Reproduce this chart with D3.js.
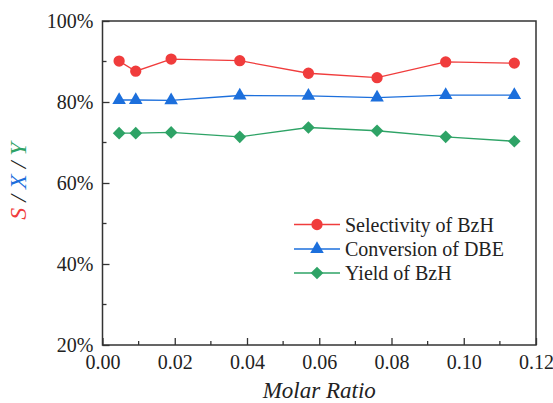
<!DOCTYPE html>
<html><head><meta charset="utf-8">
<script src="https://cdn.jsdelivr.net/npm/d3@7"></script>
<style>body{margin:0;background:#fff}svg{display:block}</style>
</head><body>
<svg id="c" width="553" height="403"></svg>
<script>
const molarRatio = [0.0046, 0.0092, 0.019, 0.038, 0.057, 0.076, 0.095, 0.114];
const selectivity = [90.1, 87.6, 90.6, 90.2, 87.1, 86.0, 89.9, 89.6];
const conversion = [80.5, 80.5, 80.4, 81.6, 81.5, 81.1, 81.7, 81.7];
const yieldBzH = [72.3, 72.3, 72.5, 71.4, 73.7, 72.9, 71.4, 70.3];
const seriesNames = ["Selectivity of BzH", "Conversion of DBE", "Yield of BzH"];
const xTicks = [0, 0.02, 0.04, 0.06, 0.08, 0.10, 0.12];
const yTicks = [20, 40, 60, 80, 100];

const FONT = '"Liberation Serif"';
const colors = ["#f03c3c", "#1c6fdc", "#2ea366"];
const diamond = { draw(ctx, size) { const r = Math.sqrt(size / 2); ctx.moveTo(0, -r); ctx.lineTo(r, 0); ctx.lineTo(0, r); ctx.lineTo(-r, 0); ctx.closePath(); } };
const symbols = [d3.symbolCircle, d3.symbolTriangle, diamond];
const symSizes = [100, 80, 80];

const svg = d3.select("#c");
const L = 102.5, R = 536, T = 21, B = 345;
const x = d3.scaleLinear().domain([0, 0.12]).range([L, R]);
const y = d3.scaleLinear().domain([20, 100]).range([B, T]);

// frame
svg.append("rect").attr("x", L).attr("y", T).attr("width", R - L).attr("height", B - T)
  .attr("fill", "none").attr("stroke", "#333").attr("stroke-width", 1.5);

// x axis
const xAxis = d3.axisBottom(x).tickValues(xTicks).tickFormat(d3.format(".2f")).tickSizeInner(-7).tickSizeOuter(0).tickPadding(10);
const gx = svg.append("g").attr("transform", `translate(0,${B})`).call(xAxis);
gx.select(".domain").remove();
gx.selectAll(".tick line").attr("stroke", "#333").attr("stroke-width", 1.3);
gx.selectAll(".tick text").style("font-size", "20px").attr("fill", "#222").style("font-family", FONT);
const xMinor = d3.range(0.01, 0.12, 0.02);
svg.append("g").selectAll("line").data(xMinor).join("line")
  .attr("x1", d => x(d)).attr("x2", d => x(d)).attr("y1", B).attr("y2", B - 4)
  .attr("stroke", "#333").attr("stroke-width", 1.3);

// y axis
const yAxis = d3.axisLeft(y).tickValues(yTicks).tickFormat(d => d + "%").tickSizeInner(-7).tickSizeOuter(0).tickPadding(9);
const gy = svg.append("g").attr("transform", `translate(${L},0)`).call(yAxis);
gy.select(".domain").remove();
gy.selectAll(".tick line").attr("stroke", "#333").attr("stroke-width", 1.3);
gy.selectAll(".tick text").style("font-size", "20px").attr("fill", "#222").style("font-family", FONT);
const yMinor = [30, 50, 70, 90];
svg.append("g").selectAll("line").data(yMinor).join("line")
  .attr("x1", L).attr("x2", L + 4).attr("y1", d => y(d)).attr("y2", d => y(d))
  .attr("stroke", "#333").attr("stroke-width", 1.3);

// series
const allSeries = [selectivity, conversion, yieldBzH];
const line = d3.line().x(d => x(d[0])).y(d => y(d[1]));
allSeries.forEach((vals, i) => {
  const pts = molarRatio.map((m, j) => [m, vals[j]]);
  svg.append("path").attr("d", line(pts)).attr("fill", "none").attr("stroke", colors[i]).attr("stroke-width", 1.3);
  svg.append("g").selectAll("path").data(pts).join("path")
    .attr("transform", d => `translate(${x(d[0])},${y(d[1])})`)
    .attr("d", d3.symbol().type(symbols[i]).size(symSizes[i]))
    .attr("fill", colors[i]);
});

// legend
const legY = [224.5, 249, 273];
seriesNames.forEach((name, i) => {
  const g = svg.append("g");
  g.append("line").attr("x1", 294).attr("x2", 340).attr("y1", legY[i]).attr("y2", legY[i])
    .attr("stroke", colors[i]).attr("stroke-width", 1.3);
  g.append("path").attr("transform", `translate(317,${legY[i]})`)
    .attr("d", d3.symbol().type(symbols[i]).size(symSizes[i])).attr("fill", colors[i]);
  g.append("text").attr("x", 345).attr("y", legY[i] + 7).style("font-size", "20px").attr("fill", "#222")
    .style("font-family", FONT).text(name);
});

// axis titles
svg.append("text").attr("x", (L + R) / 2).attr("y", 398).attr("text-anchor", "middle")
  .style("font-size", "23px").style("font-style", "italic").attr("fill", "#222").style("font-family", FONT).text("Molar Ratio");

const yt = svg.append("text").attr("transform", `translate(26,181) rotate(-90)`)
  .attr("text-anchor", "middle").style("font-size", "24px").style("font-style", "italic").style("font-family", FONT);
yt.append("tspan").attr("fill", colors[0]).text("S");
yt.append("tspan").attr("fill", "#222").text(" / ");
yt.append("tspan").attr("fill", colors[1]).text("X");
yt.append("tspan").attr("fill", "#222").text(" / ");
yt.append("tspan").attr("fill", colors[2]).text("Y");
</script>
</body></html>
